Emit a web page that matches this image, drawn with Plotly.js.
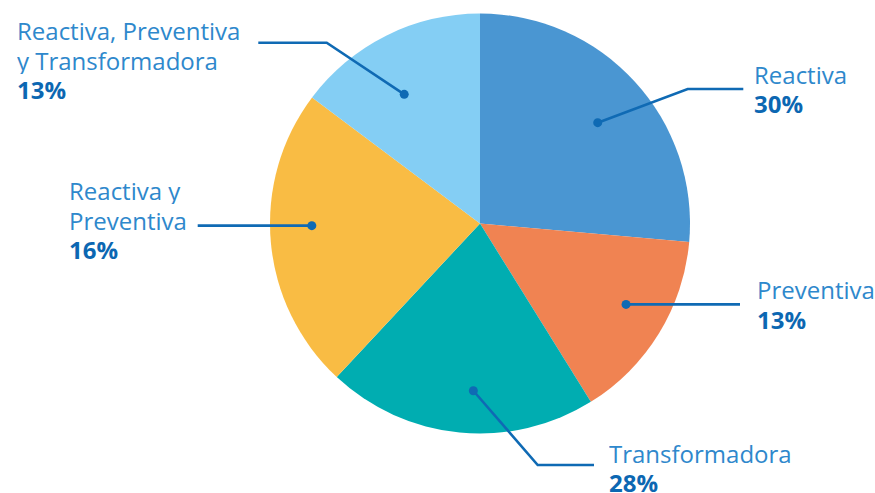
<!DOCTYPE html>
<html>
<head>
<meta charset="utf-8">
<script src="https://cdn.plot.ly/plotly-3.0.1.min.js"></script>
<style>
  html, body { margin: 0; padding: 0; background: #ffffff; }
  #chart { width: 875px; height: 493px; }
</style>
</head>
<body>
<div id="chart"></div>
<script>
// ---- Data ----
const categories = ['Reactiva', 'Preventiva', 'Transformadora', 'Reactiva y Preventiva', 'Reactiva, Preventiva y Transformadora'];
// slice sizes as drawn in the picture (share of the circle, %)
const sliceValues = [26.4, 14.75, 20.8, 23.3, 14.75];
// percentages printed on the labels
const percentLabels = ['30%', '13%', '28%', '16%', '13%'];
// label text lines
const labelLines = [
  ['Reactiva'],
  ['Preventiva'],
  ['Transformadora'],
  ['Reactiva y', 'Preventiva'],
  ['Reactiva, Preventiva', 'y Transformadora']
];
const sliceColors = ['#4a96d2', '#f08352', '#00adb1', '#f9bc44', '#84cef4'];

// ---- Layout / style config ----
const W = 875, H = 493;
const pie = { cx: 480, cy: 223.5, r: 210 };
const lineColor = '#0f6ab4';
const labelColor = '#2e88cc';
const pctColor = '#0c67b2';
const fontSize = 24;
// callout placement: dot nudge (deg), radial fraction, elbow, line end, text x, first baseline, line step
const callouts = [
  { shift: 1.9,  frac: 0.738, elbow: [687.7, 89],   endX: 743.3, textX: 753,   base: 83.3,  step: 28.4 },
  { shift: -2.6, frac: 0.795, elbow: null,          endX: 740,   textX: 756,   base: 297.7, step: 30.6 },
  { shift: -3.3, frac: 0.797, elbow: [537.7, 465],  endX: 594,   textX: 608,   base: 461.7, step: 29.5 },
  { shift: 4.3,  frac: 0.801, elbow: null,          endX: 197.7, textX: 68,    base: 199.3, step: 29.5 },
  { shift: -3.85,frac: 0.713, elbow: [326.7, 42.7], endX: 258.3, textX: 16,    base: 39.3,  step: 29.2 }
];

const total = sliceValues.reduce((a, b) => a + b, 0);
let cum = 0;
const annotations = [];
const shapes = [];

const traces = [{
  type: 'pie',
  labels: categories,
  values: sliceValues,
  sort: false,
  direction: 'clockwise',
  rotation: 0,
  textinfo: 'none',
  hoverinfo: 'label',
  marker: { colors: sliceColors, line: { width: 0 } },
  domain: {
    x: [(pie.cx - pie.r) / W, (pie.cx + pie.r) / W],
    y: [1 - (pie.cy + pie.r) / H, 1 - (pie.cy - pie.r) / H]
  },
  showlegend: false
}];

const px = v => v / W;          // pixel -> paper x
const py = v => 1 - v / H;      // pixel -> paper y

sliceValues.forEach((v, i) => {
  const mid = (cum + v / 2) / total * 360;
  cum += v;
  const c = callouts[i];
  const ang = (mid + c.shift) * Math.PI / 180;
  const dx = pie.cx + pie.r * c.frac * Math.sin(ang);
  const dy = pie.cy - pie.r * c.frac * Math.cos(ang);
  let path = 'M' + px(dx) + ',' + py(dy);
  if (c.elbow) path += ' L' + px(c.elbow[0]) + ',' + py(c.elbow[1]) + ' L' + px(c.endX) + ',' + py(c.elbow[1]);
  else path += ' L' + px(c.endX) + ',' + py(dy);
  shapes.push({
    type: 'path', xref: 'paper', yref: 'paper', layer: 'above', path: path,
    line: { color: lineColor, width: 2.6 }
  });
  const rd = 4.5;
  shapes.push({
    type: 'circle', xref: 'paper', yref: 'paper', layer: 'above',
    x0: px(dx - rd), x1: px(dx + rd), y0: py(dy + rd), y1: py(dy - rd),
    fillcolor: lineColor, line: { width: 0 }
  });
  const lines = labelLines[i].concat([percentLabels[i]]);
  lines.forEach((t, k) => {
    const isPct = k === lines.length - 1;
    annotations.push({
      xref: 'paper', yref: 'paper',
      x: px(c.textX), y: py(c.base + k * c.step - 0.35 * fontSize),
      xanchor: 'left', yanchor: 'middle',
      text: isPct ? '<b>' + t + '</b>' : t,
      showarrow: false, borderpad: 0, height: 27,
      font: { family: 'Open Sans, Noto Sans, sans-serif', size: fontSize, color: isPct ? pctColor : labelColor }
    });
  });
});

const layout = {
  width: W, height: H,
  margin: { l: 0, r: 0, t: 0, b: 0, pad: 0 },
  paper_bgcolor: '#ffffff', plot_bgcolor: 'rgba(0,0,0,0)',
  annotations: annotations,
  shapes: shapes,
  showlegend: false
};

Plotly.newPlot('chart', traces, layout, { displayModeBar: false, staticPlot: true });
</script>
</body>
</html>
